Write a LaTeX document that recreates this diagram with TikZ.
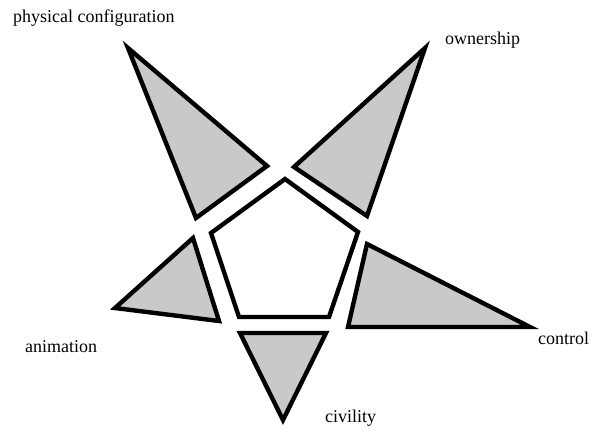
\documentclass[tikz,border=0pt]{standalone}
\usepackage{fontspec}
\setmainfont{Liberation Serif}
\usepackage{tikz}

\begin{document}
\begin{tikzpicture}[x=1pt, y=-1pt, every node/.style={font=\fontsize{18}{21}\selectfont},
  piece/.style={draw, line width=4.4pt, line join=miter, fill=black!21},
  core/.style={draw, line width=4.4pt, line join=miter, fill=white},
  tag/.style={inner sep=0pt}]
\useasboundingbox (0,0) rectangle (594,432);
% centre
\draw[core] (285,179) -- (358,232) -- (329,317) -- (239,317) -- (211,233) -- cycle;
% points of the star
\draw[piece] (128,48) -- (267,166) -- (196,218) -- cycle;
\draw[piece] (425,48) -- (367,216) -- (294,167) -- cycle;
\draw[piece] (367,244) -- (530,327) -- (348,327) -- cycle;
\draw[piece] (240,333) -- (326,333) -- (283,420) -- cycle;
\draw[piece] (193,238) -- (219,321) -- (115,308) -- cycle;
% names
\node[tag, anchor=west] (phys) at (13,18) {physical configuration};
\node[tag, anchor=west] (own) at (445,40) {ownership};
\node[tag, anchor=west] (ctrl) at (538,338) {control};
\node[tag, anchor=west] (civ) at (325,418) {civility};
\node[tag, anchor=west] (anim) at (25,347) {animation};
\end{tikzpicture}
\end{document}
